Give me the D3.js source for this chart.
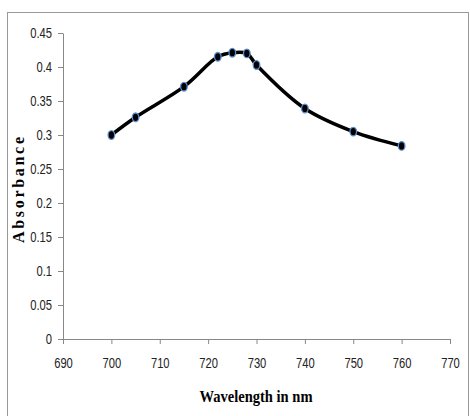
<!DOCTYPE html>
<html><head><meta charset="utf-8">
<script src="https://cdn.jsdelivr.net/npm/d3@7"></script>
<style>body{margin:0;background:#fff}</style>
</head><body>
<svg id="c" width="470" height="416"></svg>
<script>
const wavelengths = [700, 705, 715, 722, 725, 728, 730, 740, 750, 760];
const absorbance = [0.300, 0.326, 0.371, 0.415, 0.421, 0.420, 0.403, 0.339, 0.305, 0.284];
const xTicks = [690, 700, 710, 720, 730, 740, 750, 760, 770];
const yTicks = [0, 0.05, 0.1, 0.15, 0.2, 0.25, 0.3, 0.35, 0.4, 0.45];

const svg = d3.select("#c");
svg.append("rect").attr("x",7.5).attr("y",12.5).attr("width",461).attr("height",410)
  .attr("fill","none").attr("stroke","#999").attr("stroke-width",1);

const x = d3.scaleLinear().domain([690,770]).range([63,450]);
const y = d3.scaleLinear().domain([0,0.45]).range([339,33]);
const tickFont = "'Liberation Sans Narrow','Arial Narrow','Liberation Sans',sans-serif";

const gx = svg.append("g").attr("transform","translate(0,339)")
  .call(d3.axisBottom(x).tickValues(xTicks).tickSize(5).tickSizeOuter(0).tickPadding(14).tickFormat(d3.format("d")));
const gy = svg.append("g").attr("transform","translate(63,0)")
  .call(d3.axisLeft(y).tickValues(yTicks).tickSize(5).tickSizeOuter(0).tickPadding(6).tickFormat(d=>d===0?"0":String(d)));
[gx,gy].forEach(g=>{
  g.selectAll("path,line").attr("stroke","#888");
  g.selectAll("text").attr("font-family",tickFont).attr("font-size",14).attr("fill","#222")
    .each(function(){ const w=this.getComputedTextLength(); d3.select(this).attr("textLength",w*0.8).attr("lengthAdjust","spacingAndGlyphs"); });
});

const data = wavelengths.map((w,i)=>({w, a: absorbance[i]}));
svg.append("path").datum(data)
  .attr("d", d3.line().x(d=>x(d.w)).y(d=>y(d.a)).curve(d3.curveCatmullRom.alpha(0.5)))
  .attr("fill","none").attr("stroke","#000").attr("stroke-width",3.5);
svg.selectAll("ellipse.m").data(data).enter().append("ellipse")
  .attr("cx",d=>x(d.w)).attr("cy",d=>y(d.a)).attr("rx",3.3).attr("ry",4.3)
  .attr("fill","#000").attr("stroke","#5b8fd0").attr("stroke-width",1.3);

svg.append("text").attr("x",256).attr("y",402).attr("text-anchor","middle")
  .attr("font-family","'Liberation Serif','Times New Roman',serif").attr("font-weight","bold")
  .attr("font-size",17).attr("textLength",113).attr("lengthAdjust","spacingAndGlyphs")
  .text("Wavelength in nm");
svg.append("text").attr("transform","translate(24,190) rotate(-90)").attr("text-anchor","middle")
  .attr("font-family","'Liberation Serif','Times New Roman',serif").attr("font-weight","bold")
  .attr("font-size",16).attr("textLength",106).attr("lengthAdjust","spacing")
  .text("Absorbance");
</script>
</body></html>
